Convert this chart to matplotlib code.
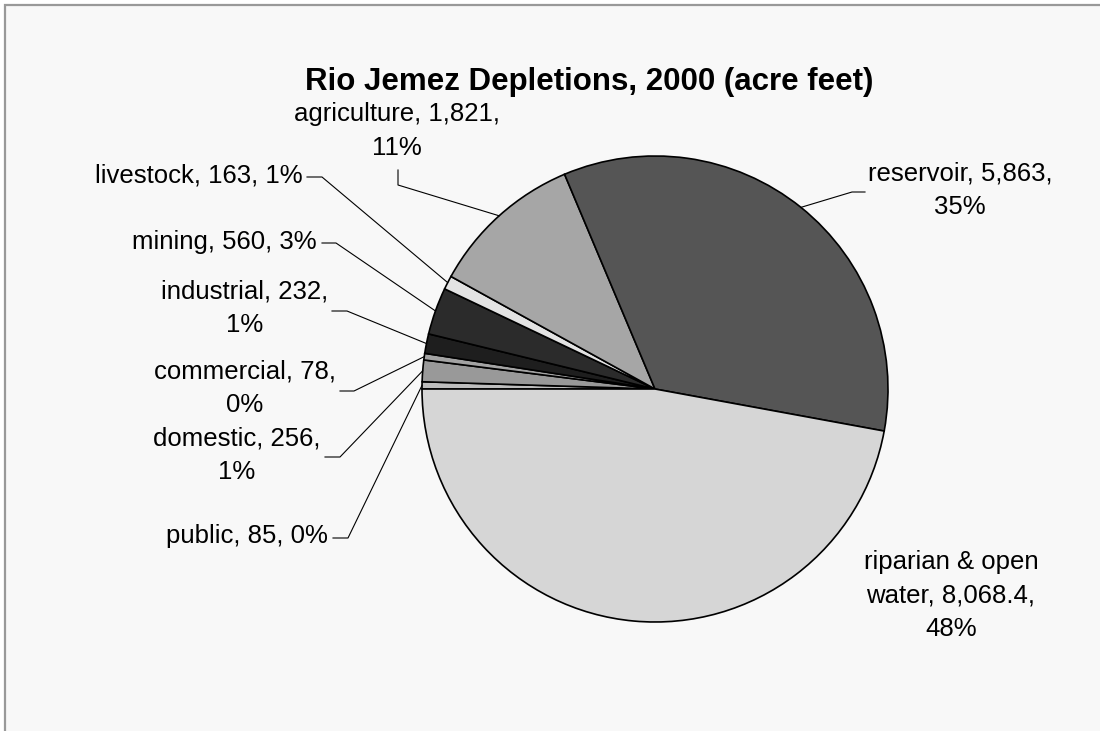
import numpy as np
import matplotlib.pyplot as plt
from matplotlib.patches import Rectangle

plt.rcParams['font.family'] = ['Liberation Sans', 'DejaVu Sans']

# slices in clockwise order starting at 9 o'clock
categories = ['public', 'domestic', 'commercial', 'industrial', 'mining',
              'livestock', 'agriculture', 'reservoir', 'riparian & open water']
values = [85, 256, 78, 232, 560, 163, 1821, 5863, 8068.4]
labels = ['public, 85, 0%',
          'domestic, 256,\n1%',
          'commercial, 78,\n0%',
          'industrial, 232,\n1%',
          'mining, 560, 3%',
          'livestock, 163, 1%',
          'agriculture, 1,821,\n11%',
          'reservoir, 5,863,\n35%',
          'riparian & open\nwater, 8,068.4,\n48%']
colors = ['#bdbdbd', '#999999', '#a3a3a3', '#1e1e1e', '#2b2b2b',
          '#e3e3e3', '#a6a6a6', '#555555', '#d6d6d6']
title = 'Rio Jemez Depletions, 2000 (acre feet)'

W, H = 1100, 731


def px(x, y):
    # pixel position (from top-left) -> data coords
    return (x, H - y)


# label text position, alignment and leader elbow points (pixels)
layout = [
    dict(pos=(328, 536), ha='right', path=[(348, 538), (333, 538)]),
    dict(pos=(237, 455), ha='center', path=[(340, 457), (325, 457)]),
    dict(pos=(245, 388), ha='center', path=[(354, 391), (340, 391)]),
    dict(pos=(245, 308), ha='center', path=[(347, 311), (332, 311)]),
    dict(pos=(317, 242), ha='right', path=[(336, 243), (322, 243)]),
    dict(pos=(303, 176), ha='right', path=[(322, 177), (307, 177)]),
    dict(pos=(397, 131), ha='center', path=[(398, 185), (398, 170)]),
    dict(pos=(960, 190), ha='center', path=[(852, 192), (865, 192)]),
    dict(pos=(951, 595), ha='center', path=None),
]

fig = plt.figure(figsize=(11, 7.31), dpi=100)
fig.patch.set_facecolor('white')
ax = fig.add_axes([0, 0, 1, 1])

# chart area background with border (only top/left visible)
ax.add_patch(Rectangle((5, -20), 1200, H - 5 + 20, facecolor='#f8f8f8',
                       edgecolor='#999999', linewidth=1.6, zorder=0))

center = px(655, 389)
radius = 233
wedges, _ = ax.pie(values, colors=colors, startangle=180, counterclock=False,
                   center=center, radius=radius,
                   wedgeprops=dict(edgecolor='black', linewidth=1.2))

for w, lab, lay in zip(wedges, labels, layout):
    if lay['path'] is not None:
        mid = np.deg2rad((w.theta1 + w.theta2) / 2)
        ax0 = center[0] + radius * np.cos(mid)
        ay0 = center[1] + radius * np.sin(mid)
        pts = [(ax0, ay0)] + [px(*p) for p in lay['path']]
        xs, ys = zip(*pts)
        ax.plot(xs, ys, color='black', linewidth=0.8, zorder=3)
    ax.text(*px(*lay['pos']), lab, ha=lay['ha'], va='center',
            multialignment='center', fontsize=18.5, linespacing=1.5)

ax.text(*px(305, 82), title, ha='left', va='center', fontsize=22.5,
        fontweight='bold')

ax.set_xlim(0, W)
ax.set_ylim(0, H)
ax.axis('off')

fig.savefig('out.png', dpi=100)
